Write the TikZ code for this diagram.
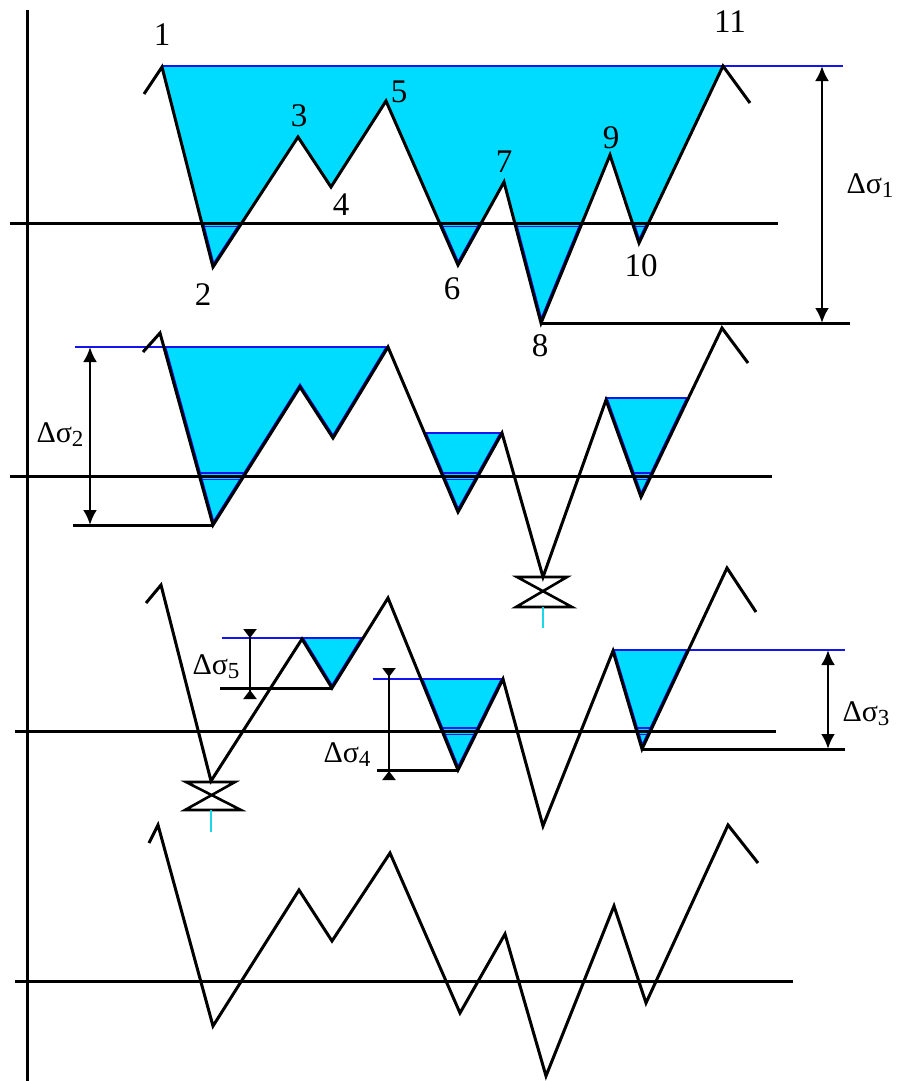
\documentclass[tikz,border=0pt]{standalone}
\usepackage{fontspec}
\setmainfont{Liberation Serif}
\usetikzlibrary{arrows.meta}
\definecolor{cyclecyan}{HTML}{00DCFF}
\definecolor{cycleblue}{HTML}{1414F0}
\definecolor{marktick}{HTML}{19D9E6}
\tikzset{history/.style={line width=3pt},zeroline/.style={line width=3pt},cyclefill/.style={fill=cyclecyan},cycleedge/.style={cycleblue,line width=2.2pt},cutedge/.style={cycleblue,line width=1.3pt},dimarrow/.style={line width=2.8pt,{Latex[length=15pt,width=14pt]}-{Latex[length=15pt,width=14pt]}},stoparrow/.style={line width=2.4pt,{Triangle[reversed,length=9pt,width=13pt]}-{Triangle[reversed,length=9pt,width=13pt]}},peaklabel/.style={font=\fontsize{33}{36}\selectfont,inner sep=0pt,anchor=base},rangelabel/.style={font=\fontsize{30}{33}\selectfont,inner sep=0pt,anchor=base},stopmark/.style={line width=2.6pt},stoptick/.style={marktick,line width=2.4pt}}
\newcommand{\dsig}[1]{Δσ\raisebox{-4pt}{\fontsize{23}{24}\selectfont#1}}

\begin{document}
\begin{tikzpicture}[x=1pt,y=-1pt]
\useasboundingbox (0,0) rectangle (898,1081);
% turning points of the four passes
\foreach \n/\p in {0/{144,94},1/{162,67},2/{213,267},3/{298,137},4/{331,187},5/{386,101},6/{458,265},7/{504,182},8/{541,323},9/{610,155},10/{639,243},11/{723,66},12/{750,103}}{\coordinate (a\n) at (\p);}
\foreach \n/\p in {0/{143,352},1/{160,333},2/{213,525},3/{300,387},4/{333,438},5/{388,347},6/{458,512},7/{502,433},8/{543,577},9/{606,400},10/{641,497},11/{722,328},12/{748,363}}{\coordinate (b\n) at (\p);}
\foreach \n/\p in {0/{146,603},1/{161,585},2/{211,781},3/{302,639},4/{332,688},5/{388,598},6/{458,770},7/{503,679},8/{543,826},9/{613,651},10/{642,749},11/{727,568},12/{756,612}}{\coordinate (c\n) at (\p);}
\foreach \n/\p in {0/{149,843},1/{158,825},2/{213,1026},3/{299,890},4/{332,941},5/{390,853},6/{460,1013},7/{505,934},8/{546,1076},9/{614,906},10/{646,1003},11/{728,825},12/{758,863}}{\coordinate (d\n) at (\p);}
\coordinate (bL1) at (164,347); \coordinate (bL2) at (424.5,433);
\coordinate (bL3) at (605.3,398); \coordinate (bR3) at (688.4,398);
\coordinate (cR1) at (363,638); \coordinate (cL2) at (421,679);
\coordinate (cL3) at (612.5,650); \coordinate (cR3) at (688.5,650);

% cycles
\fill[cyclefill] (a1) \foreach \i in {2,...,11}{--(a\i)} --cycle;
\fill[cyclefill] (bL1)--(b2)--(b3)--(b4)--(b5)--cycle (bL2)--(b6)--(b7)--cycle (bL3)--(b10)--(bR3)--cycle;
\fill[cyclefill] (c3)--(c4)--(cR1)--cycle (cL2)--(c6)--(c7)--cycle (cL3)--(c10)--(cR3)--cycle;
\begin{scope}
\clip (a1) \foreach \i in {2,...,11}{--(a\i)} --cycle;
\draw[cutedge] (0,226.5)--(898,226.5);
\draw[cutedge,line width=4.5pt] (a1) \foreach \i in {2,...,11}{--(a\i)};
\fill[cyclefill] (0,0) rectangle (898,225);
\end{scope}
\begin{scope}
\clip (bL1)--(b2)--(b3)--(b4)--(b5)--cycle (bL2)--(b6)--(b7)--cycle (bL3)--(b10)--(bR3)--cycle;
\draw[cutedge] (0,473)--(898,473) (0,479.5)--(898,479.5);
\draw[cutedge,line width=4.5pt] (bL1)--(b2)--(b3)--(b4)--(b5) (bL2)--(b6)--(b7) (bL3)--(b10)--(bR3);
\end{scope}
\begin{scope}
\clip (c3)--(c4)--(cR1)--cycle (cL2)--(c6)--(c7)--cycle (cL3)--(c10)--(cR3)--cycle;
\draw[cutedge] (0,728)--(898,728) (0,734.5)--(898,734.5);
\draw[cutedge,line width=4.5pt] (c3)--(c4)--(cR1) (cL2)--(c6)--(c7) (cL3)--(c10)--(cR3);
\end{scope}
\coordinate (topA) at (162,66); \coordinate (topAr) at (843,66);
\coordinate (topB) at (75,347); \coordinate (topC1) at (222,638);
\coordinate (topC2) at (373,679); \coordinate (topC3r) at (845,650);
\draw[cycleedge] (topA)--(topAr);
\draw[cycleedge] (topB)--(b5) (bL2)--(b7) (bL3)--(bR3);
\draw[cycleedge] (topC1)--(cR1) (topC2)--(c7) (cL3)--(topC3r);

% load history
\draw[history] (a0) \foreach \i in {1,...,12}{--(a\i)};
\draw[history] (b0) \foreach \i in {1,...,12}{--(b\i)};
\draw[history] (c0) \foreach \i in {1,...,12}{--(c\i)};
\draw[history] (d0) \foreach \i in {1,...,12}{--(d\i)};
\coordinate (ordA) at (27,10); \coordinate (ordB) at (27,1081);
\draw[zeroline] (ordA)--(ordB);
\foreach \k/\y/\l/\r in {A/223/10/778,B/476/10/772,C/731/15/776,D/981/15/793}{
  \coordinate (z\k l) at (\l,\y); \coordinate (z\k r) at (\r,\y);
  \draw[zeroline] (z\k l)--(z\k r);}

% stopped half cycles
\coordinate (hB1) at (517,577); \coordinate (hB2) at (567,577);
\coordinate (hB3) at (516,607); \coordinate (hB4) at (572,607);
\coordinate (hB5) at (543,607); \coordinate (hB6) at (543,628);
\draw[stopmark] (hB1)--(hB2)--(hB3)--(hB4)--cycle;
\draw[stoptick] (hB5)--(hB6);
\coordinate (hC1) at (186,782); \coordinate (hC2) at (235,782);
\coordinate (hC3) at (185,810); \coordinate (hC4) at (241,810);
\coordinate (hC5) at (211,810); \coordinate (hC6) at (211,832);
\draw[stopmark] (hC1)--(hC2)--(hC3)--(hC4)--cycle;
\draw[stoptick] (hC5)--(hC6);

% ranges
\coordinate (botAr) at (850,323); \coordinate (dA1) at (822,66); \coordinate (dA2) at (822,323);
\draw[zeroline] (a8)--(botAr);
\draw[dimarrow] (dA1)--(dA2);
\coordinate (botB) at (73,525); \coordinate (dB1) at (90,347); \coordinate (dB2) at (90,525);
\draw[zeroline] (botB)--(b2);
\draw[dimarrow] (dB1)--(dB2);
\coordinate (botC3r) at (845,749); \coordinate (dC1) at (828,650); \coordinate (dC2) at (828,749);
\draw[zeroline] (c10)--(botC3r);
\draw[dimarrow] (dC1)--(dC2);
\coordinate (botC2) at (377,770); \coordinate (sC21) at (389,668); \coordinate (sC22) at (389,780);
\draw[zeroline] (botC2)--(c6);
\draw[stoparrow] (sC21)--(sC22);
\coordinate (botC1) at (220,688); \coordinate (sC11) at (250,629); \coordinate (sC12) at (250,699);
\draw[zeroline] (botC1)--(c4);
\draw[stoparrow] (sC11)--(sC12);

% labels
\foreach \t/\p in {1/{162,46},2/{203,305},3/{299,126},4/{341,215},5/{399,102},6/{452,299},7/{504,172},8/{540,356},9/{611,148},10/{641,276},11/{730,33}}{\node[peaklabel] (n\t) at (\p) {\t};}
\node[rangelabel] (r1) at (870,193) {\dsig{1}};
\node[rangelabel] (r2) at (60,442) {\dsig{2}};
\node[rangelabel] (r3) at (866,721) {\dsig{3}};
\node[rangelabel] (r4) at (347,762) {\dsig{4}};
\node[rangelabel] (r5) at (216,674) {\dsig{5}};
\end{tikzpicture}
\end{document}
